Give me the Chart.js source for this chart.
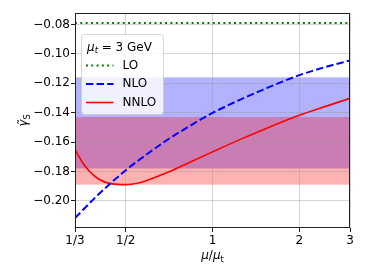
<!DOCTYPE html>
<html><head><meta charset="utf-8">
<script src="https://cdn.jsdelivr.net/npm/chart.js@4.4.0/dist/chart.umd.min.js"></script>
<style>html,body{margin:0;padding:0;background:#fff}</style>
</head><body>
<canvas id="c" width="368" height="276"></canvas>
<script>
// ---- data ----
const xTicks = [1/3, 1/2, 1, 2, 3];
const xTickLabels = ['1/3', '1/2', '1', '2', '3'];
const yTicks = [-0.20, -0.18, -0.16, -0.14, -0.12, -0.10, -0.08];

const loX = [1/3, 3];
const loVals = [-0.079, -0.079];

const nloX = [1/3, 0.4, 0.5, 0.6, 0.7, 0.8, 1, 1.25, 1.5, 2, 2.5, 3];
const nloVals = [-0.2117, -0.1961, -0.1792, -0.1675, -0.1583, -0.1512, -0.1402, -0.1311, -0.1243, -0.1145, -0.1086, -0.1045];

const nnloX = [1/3, 0.36, 0.4, 0.45, 0.5, 0.55, 0.6, 0.7, 0.8, 1, 1.25, 1.5, 2, 2.5, 3];
const nnloVals = [-0.1650, -0.1760, -0.1848, -0.1885, -0.1890, -0.1880, -0.1857, -0.1806, -0.1754, -0.1667, -0.1582, -0.1516, -0.1418, -0.1354, -0.1303];

const nloBand = [-0.178, -0.116];
const nnloBand = [-0.189, -0.143];

const seriesNames = ['LO', 'NLO', 'NNLO'];

// ---- styling ----
const FONT = 'DejaVu Sans';
const FS = 12;
const toPts = (xs, ys) => xs.map((x, i) => ({x: x, y: ys[i]}));

function drawRich(ctx, parts, x, y, size, align) {
  let w = 0;
  const items = parts.map(p => {
    const s = p.sub ? size * 0.7 : size;
    const f = (p.it ? 'italic ' : '') + s + 'px "' + FONT + '"';
    ctx.font = f;
    const mw = ctx.measureText(p.t).width;
    w += mw;
    return {p, f, mw, s};
  });
  let cx = align === 'center' ? x - w / 2 : x;
  ctx.textBaseline = 'alphabetic';
  ctx.textAlign = 'left';
  for (const it of items) {
    ctx.font = it.f;
    const dy = it.p.sub ? size * 0.22 : 0;
    ctx.fillText(it.p.t, cx, y + dy);
    cx += it.mw;
  }
  return w;
}

const bandsPlugin = {
  id: 'bands',
  beforeDraw(chart) {
    const {ctx, chartArea: a, scales: {y}} = chart;
    ctx.save();
    const band = (b, col) => {
      const y1 = y.getPixelForValue(b[1]), y0 = y.getPixelForValue(b[0]);
      ctx.fillStyle = col;
      ctx.fillRect(a.left, y1, a.right - a.left, y0 - y1);
    };
    band(nloBand, 'rgba(0,0,255,0.3)');
    band(nnloBand, 'rgba(255,0,0,0.3)');
    ctx.restore();
  }
};

const decorPlugin = {
  id: 'decor',
  afterDraw(chart) {
    const {ctx, chartArea: a} = chart;
    ctx.save();
    // frame
    ctx.strokeStyle = '#222';
    ctx.lineWidth = 1;
    ctx.strokeRect(Math.round(a.left) + 0.5, Math.round(a.top) + 0.5,
                   Math.round(a.right - a.left) - 1, Math.round(a.bottom - a.top) - 1);
    // legend box
    const lx = 81.5, ly = 34.5, lw = 82, lh = 80, r = 3;
    ctx.beginPath();
    ctx.moveTo(lx + r, ly);
    ctx.lineTo(lx + lw - r, ly); ctx.quadraticCurveTo(lx + lw, ly, lx + lw, ly + r);
    ctx.lineTo(lx + lw, ly + lh - r); ctx.quadraticCurveTo(lx + lw, ly + lh, lx + lw - r, ly + lh);
    ctx.lineTo(lx + r, ly + lh); ctx.quadraticCurveTo(lx, ly + lh, lx, ly + lh - r);
    ctx.lineTo(lx, ly + r); ctx.quadraticCurveTo(lx, ly, lx + r, ly);
    ctx.closePath();
    ctx.fillStyle = 'rgba(255,255,255,0.8)';
    ctx.fill();
    ctx.strokeStyle = 'rgba(204,204,204,0.8)';
    ctx.stroke();
    ctx.fillStyle = '#000';
    drawRich(ctx, [{t: 'μ', it: true}, {t: 't', it: true, sub: true}, {t: ' = 3 GeV'}], 87, 50.5, FS, 'left');
    const rows = [
      {y: 65.5, col: '#008000', dash: [2, 3.3], w: 2},
      {y: 84, col: '#0000ff', dash: [7.4, 3.2], w: 2},
      {y: 102.5, col: '#ff0000', dash: [], w: 1.6}
    ];
    rows.forEach((rw, i) => {
      ctx.beginPath();
      ctx.setLineDash(rw.dash);
      ctx.lineCap = 'butt';
      ctx.strokeStyle = rw.col;
      ctx.lineWidth = rw.w;
      ctx.moveTo(86, rw.y); ctx.lineTo(113.5, rw.y);
      ctx.stroke();
      ctx.setLineDash([]);
      ctx.fillStyle = '#000';
      ctx.font = FS + 'px "' + FONT + '"';
      ctx.textBaseline = 'middle';
      ctx.textAlign = 'left';
      ctx.fillText(seriesNames[i], 122.5, rw.y);
    });
    // axis titles
    ctx.fillStyle = '#000';
    drawRich(ctx, [{t: 'μ', it: true}, {t: '/'}, {t: 'μ', it: true}, {t: 't', sub: true}], (a.left + a.right) / 2, 259, FS, 'center');
    ctx.translate(27, (a.top + a.bottom) / 2);
    ctx.rotate(-Math.PI / 2);
    drawRich(ctx, [{t: 'γ\u0303', it: true}, {t: 'S', sub: true}], 0, 0, FS, 'center');
    ctx.restore();
  }
};

const gridCol = 'rgba(150,150,150,0.4)';

new Chart(document.getElementById('c'), {
  type: 'line',
  data: {
    datasets: [
      {label: seriesNames[0], data: toPts(loX, loVals), borderColor: '#008000', borderWidth: 2, borderDash: [2, 3.3], pointRadius: 0, fill: false},
      {label: seriesNames[1], data: toPts(nloX, nloVals), borderColor: '#0000ff', borderWidth: 2, borderDash: [7.4, 3.2], pointRadius: 0, fill: false, cubicInterpolationMode: 'monotone'},
      {label: seriesNames[2], data: toPts(nnloX, nnloVals), borderColor: '#ff0000', borderWidth: 1.6, pointRadius: 0, fill: false, cubicInterpolationMode: 'monotone'}
    ]
  },
  options: {
    responsive: false,
    animation: false,
    devicePixelRatio: 1,
    layout: {padding: {left: 0, right: 18, top: 13, bottom: 0}},
    plugins: {legend: {display: false}, tooltip: {enabled: false}, title: {display: false}},
    scales: {
      x: {
        type: 'logarithmic',
        bounds: 'data',
        min: 1/3, max: 3,
        afterFit: s => { s.height = 48; },
        afterBuildTicks: s => { s.ticks = xTicks.map(v => ({value: v, major: true})); },
        ticks: {
          autoSkip: false, maxRotation: 0, padding: 2,
          color: '#000', font: {family: FONT, size: FS},
          callback: (v) => { const i = xTicks.findIndex(t => Math.abs(t - v) < 1e-9); return i >= 0 ? xTickLabels[i] : ''; }
        },
        grid: {color: gridCol, lineWidth: 1, drawTicks: true, tickLength: 4, tickColor: '#222', tickWidth: 1},
        border: {display: false}
      },
      y: {
        type: 'linear',
        bounds: 'data',
        min: -0.2185, max: -0.0722,
        afterFit: s => { s.width = 75; },
        afterBuildTicks: s => { s.ticks = yTicks.map(v => ({value: v})); },
        ticks: {
          padding: 1, color: '#000', font: {family: FONT, size: FS},
          callback: (v) => (v < 0 ? '\u2212' : '') + Math.abs(v).toFixed(2)
        },
        grid: {color: gridCol, lineWidth: 1, drawTicks: true, tickLength: 4, tickColor: '#222', tickWidth: 1},
        border: {display: false}
      }
    }
  },
  plugins: [bandsPlugin, decorPlugin]
});
</script>
</body></html>
